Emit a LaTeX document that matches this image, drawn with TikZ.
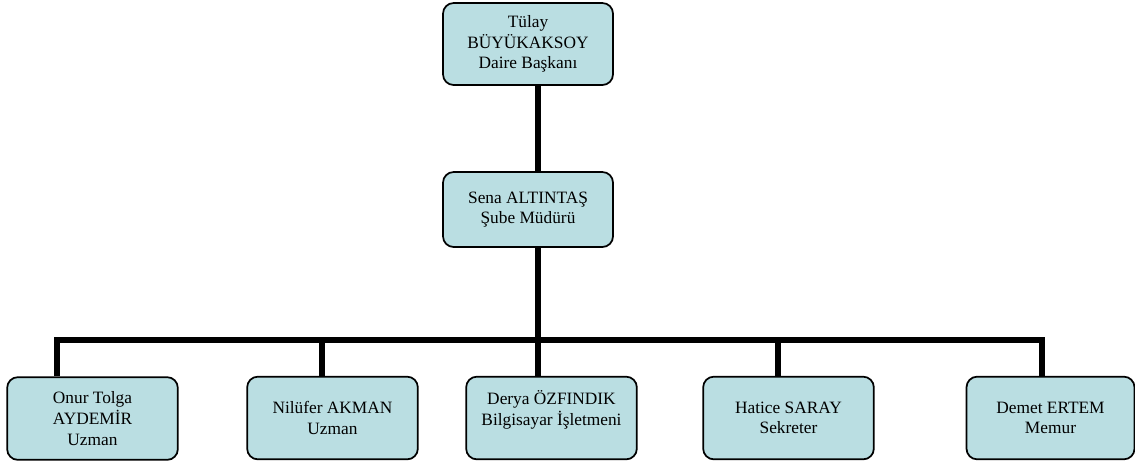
\documentclass[tikz,border=0pt]{standalone}
\usepackage{fontspec}
\setmainfont{Liberation Serif}
\usetikzlibrary{calc}
\definecolor{kutumavi}{RGB}{186,222,226}
\tikzset{
  birim/.style={draw=black, line width=1.3pt, fill=kutumavi, rounded corners=8pt,
    align=center, inner sep=0pt, font=\fontsize{13}{15.5}\selectfont},
  altbirim/.style={birim, minimum width=128pt, minimum height=62pt},
  baglanti/.style={black, line width=4.5pt}
}
\begin{document}
\begin{tikzpicture}[x=0.75pt, y=-0.75pt]
    \useasboundingbox (0,0) rectangle (1135,465);
    % Daire başkanı ve şube müdürü
    \node[birim, minimum width=127.5pt, minimum height=61.5pt] (baskan) at (528,44) {Tülay\\BÜYÜKAKSOY\\Daire Başkanı};
    \node[birim, minimum width=127.5pt, minimum height=56.25pt] (mudur) at (528,209.5) {Sena ALTINTAŞ\\Şube Müdürü};
    % Alt birimler
    \node[altbirim] (uzman1) at (92.5,418.5) {Onur Tolga\\AYDEMİR\\Uzman};
    \node[altbirim] (uzman2) at (332.5,418) {Nilüfer AKMAN\\Uzman};
    \node[altbirim] (isletmen) at (551.5,418) {Derya ÖZFINDIK\\Bilgisayar İşletmeni\\\mbox{}};
    \node[altbirim] (sekreter) at (788.5,418) {Hatice SARAY\\Sekreter};
    \node[altbirim, minimum width=126pt] (memur) at (1050.5,418) {Demet ERTEM\\Memur};
    % Bağlantı noktaları
    \coordinate (hat) at (538,340);
    \coordinate (d1) at ($(uzman1.north)+(-35.5,0)$);
    \coordinate (d2) at ($(uzman2.north)+(-10.5,0)$);
    \coordinate (d3) at ($(isletmen.north)+(-13.5,0)$);
    \coordinate (d4) at ($(sekreter.north)+(-10.5,0)$);
    \coordinate (d5) at ($(memur.north)+(-8.5,0)$);
    % Dikey hat
    \draw[baglanti] ($(baskan.south)+(10,0)$) -- ($(mudur.north)+(10,0)$);
    \draw[baglanti] ($(mudur.south)+(10,0)$) -- (d3);
    % Yatay hat
    \draw[baglanti] (d1) |- (hat) -| (d5);
    \draw[baglanti] (d2) -- (d2 |- hat);
    \draw[baglanti] (d4) -- (d4 |- hat);
\end{tikzpicture}
\end{document}
